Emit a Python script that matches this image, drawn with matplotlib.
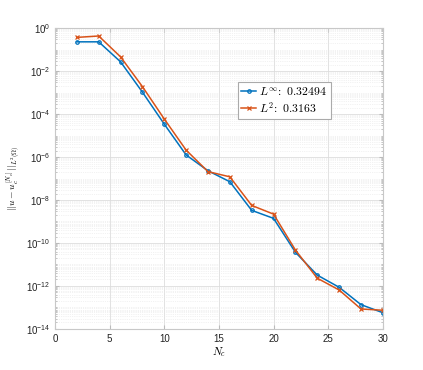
import matplotlib
matplotlib.use('Agg')
import matplotlib.pyplot as plt
from matplotlib.ticker import LogLocator, NullFormatter
import numpy as np

plt.rcParams['font.family'] = ['Liberation Sans', 'DejaVu Sans']
plt.rcParams['mathtext.fontset'] = 'cm'

# Data
NC = [2, 4, 6, 8, 10, 12, 14, 16, 18, 20, 22, 24, 26, 28, 30]
ERR_LINF = [0.23, 0.23, 2.7e-2, 1.05e-3, 3.4e-5, 1.25e-6, 2.3e-7, 7.1e-8,
            3.3e-9, 1.4e-9, 3.7e-11, 3.2e-12, 8.7e-13, 1.35e-13, 5.7e-14]
ERR_L2 = [0.37, 0.43, 4.6e-2, 1.9e-3, 5.9e-5, 2.1e-6, 2.1e-7, 1.2e-7,
          5.6e-9, 2.2e-9, 4.7e-11, 2.3e-12, 6.5e-13, 8.5e-14, 7.4e-14]
LABEL_LINF = r'$L^{\infty}\!:\ 0.32494$'
LABEL_L2 = r'$L^{2}\!:\ 0.3163$'

fig = plt.figure(figsize=(4.23, 3.70), dpi=100)
ax = fig.add_axes([0.130, 0.111, 0.775, 0.813])

blue = '#0072BD'
red = '#D95319'
ax.semilogy(NC, ERR_LINF, '-o', color=blue, lw=1.1, ms=2.5, mfc='none',
            mew=0.9, label=LABEL_LINF)
ax.semilogy(NC, ERR_L2, '-x', color=red, lw=1.1, ms=2.5, mew=0.9,
            label=LABEL_L2)

ax.set_xlim(0, 30)
ax.set_ylim(1e-14, 1e0)
ax.set_xticks([0, 5, 10, 15, 20, 25, 30])
ax.set_yticks([10.0 ** k for k in range(-14, 1, 2)])
ax.yaxis.set_minor_locator(LogLocator(base=10, subs=np.arange(1, 10), numticks=100))
ax.yaxis.set_minor_formatter(NullFormatter())

ax.grid(True, which='major', color='#dddddd', lw=0.6)
ax.grid(True, which='minor', axis='y', color='#e6e6e6', lw=0.5, ls=':')
ax.set_axisbelow(True)

for s in ax.spines.values():
    s.set_color('#c8c8c8')
    s.set_linewidth(0.8)
ax.tick_params(which='both', direction='in', colors='#bbbbbb',
               labelcolor='#222222', labelsize=7, top=True, right=True)
ax.tick_params(which='major', length=3)
ax.tick_params(which='minor', length=1.5)

ax.set_xlabel(r'$N_c$', fontsize=8, labelpad=1)
ax.set_ylabel(r'$||u-u_c^{[N_c]}||_{L^2(\Omega)}$', fontsize=7, labelpad=2)

leg = ax.legend(loc='upper left', bbox_to_anchor=(0.557, 0.82), fontsize=8.5,
                handlelength=1.3, handletextpad=0.25, borderpad=0.3,
                labelspacing=0.15, fancybox=False, framealpha=1,
                borderaxespad=0)
leg.get_frame().set_edgecolor('#aaaaaa')
leg.get_frame().set_linewidth(0.8)

fig.savefig('out.png', dpi=100, facecolor='white')
